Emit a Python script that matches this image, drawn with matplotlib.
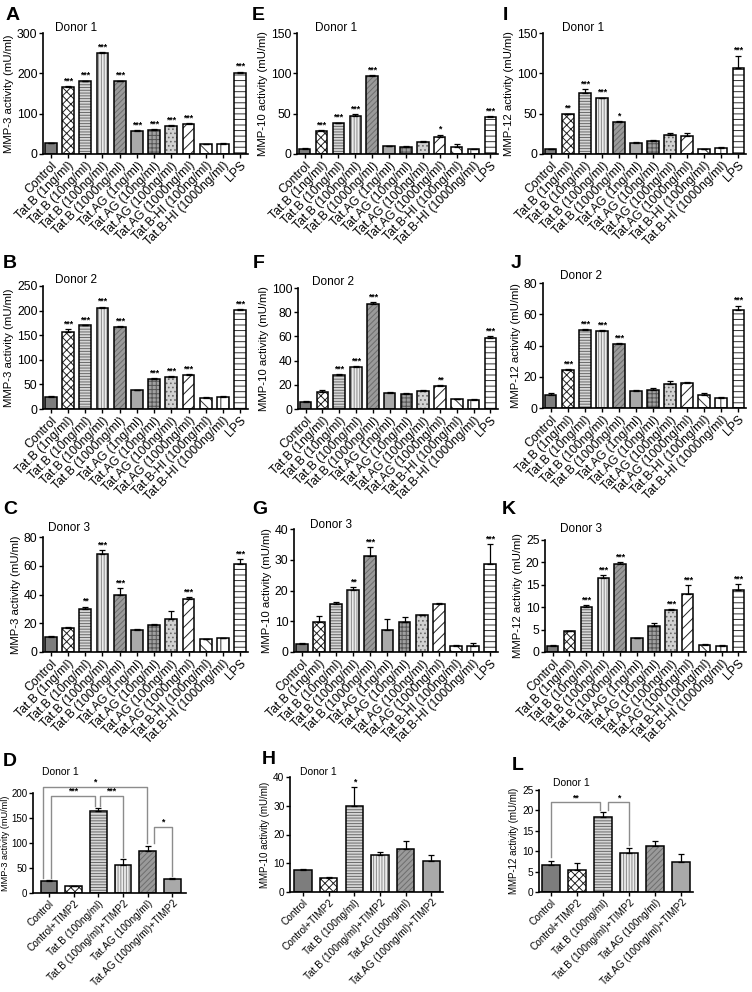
import numpy as np
import matplotlib.pyplot as plt

plt.rcParams['font.family'] = ['Liberation Sans', 'DejaVu Sans']
plt.rcParams['hatch.linewidth'] = 0.7

W, H = 752, 992

# カテゴリ
top_labels = ["Control", "Tat.B (1ng/ml)", "Tat.B (10ng/ml)", "Tat.B (100ng/ml)",
              "Tat.B (1000ng/ml)", "Tat.AG (1ng/ml)", "Tat.AG (10ng/ml)",
              "Tat.AG (100ng/ml)", "Tat.AG (1000ng/ml)", "Tat.B-HI (100ng/ml)",
              "Tat.B-HI (1000ng/ml)", "LPS"]
bottom_labels = ["Control", "Control+TIMP2", "Tat.B (100ng/ml)",
                 "Tat.B (100ng/ml)+TIMP2", "Tat.AG (100ng/ml)",
                 "Tat.AG (100ng/ml)+TIMP2"]

# MMP-3
mmp3_d1 = [27, 167, 180, 250, 180, 57, 60, 70, 74, 25, 26, 202]
mmp3_d1_err = [1.5, 2, 2, 3, 2, 2, 2, 2, 2, 1, 1, 2]
mmp3_d1_sig = ["", "***", "***", "***", "***", "***", "***", "***", "***", "", "", "***"]
mmp3_d2 = [25, 156, 170, 206, 167, 38, 60, 65, 70, 23, 25, 201]
mmp3_d2_err = [1, 6, 1, 2, 1, 1, 3, 2, 1, 1, 1, 2]
mmp3_d2_sig = ["", "***", "***", "***", "***", "", "***", "***", "***", "", "", "***"]
mmp3_d3 = [10.5, 17, 30, 68, 40, 15.5, 19, 23, 37, 9, 9.5, 61.5]
mmp3_d3_err = [0.5, 0.5, 1.5, 3, 4.5, 0.3, 0.5, 5.5, 1, 0.3, 0.5, 3]
mmp3_d3_sig = ["", "", "**", "***", "***", "", "", "", "***", "", "", "***"]
mmp3_timp = [25, 14, 165, 57, 85, 29]
mmp3_timp_err = [2, 1, 5, 12, 10, 2]
mmp3_timp_sig = ["", "", "", "", "", ""]

# MMP-10
mmp10_d1 = [6, 29, 38, 47, 97, 10, 9, 15, 21, 9, 6, 46]
mmp10_d1_err = [1, 1, 1, 2, 1, 0.5, 0.5, 1, 3, 4, 0.5, 1]
mmp10_d1_sig = ["", "***", "***", "***", "***", "", "", "", "*", "", "", "***"]
mmp10_d2 = [6, 14, 28, 35, 87, 13, 12, 15, 19, 8, 7.5, 59]
mmp10_d2_err = [1, 1.5, 1, 0.5, 1.5, 1.2, 1, 0.5, 0.8, 0.5, 0.5, 1.5]
mmp10_d2_sig = ["", "", "***", "***", "***", "", "", "", "**", "", "", "***"]
mmp10_d3 = [2.7, 9.8, 15.5, 20.3, 31.2, 7, 9.8, 12, 15.7, 2, 2, 28.5]
mmp10_d3_err = [0.3, 1.8, 0.7, 0.8, 3, 3.8, 1.7, 0.1, 0.3, 0.3, 0.8, 6.5]
mmp10_d3_sig = ["", "", "", "**", "***", "", "", "", "", "", "", "***"]
mmp10_timp = [7.7, 4.7, 30, 12.8, 14.8, 10.8]
mmp10_timp_err = [0.4, 0.4, 6.5, 1.2, 3, 2]
mmp10_timp_sig = ["", "", "*", "", "", ""]

# MMP-12
mmp12_d1 = [6, 49, 76, 69, 40, 14, 16, 24, 22, 6, 8, 107]
mmp12_d1_err = [0.5, 1, 4, 1, 1, 1, 1, 2, 4, 0.5, 1, 15]
mmp12_d1_sig = ["", "**", "***", "***", "*", "", "", "", "", "", "", "***"]
mmp12_d2 = [8.5, 24.5, 50, 49.5, 41, 11, 11.5, 15.5, 16, 8.5, 6.5, 62.5]
mmp12_d2_err = [1, 0.5, 0.3, 0.3, 0.5, 0.5, 1, 1.5, 0.5, 1, 0.3, 3]
mmp12_d2_sig = ["", "***", "***", "***", "***", "", "", "", "", "", "", "***"]
mmp12_d3 = [1.4, 4.6, 10, 16.5, 19.7, 3.1, 5.7, 9.3, 13, 1.5, 1.4, 13.8]
mmp12_d3_err = [0.1, 0.1, 0.4, 0.7, 0.3, 0.1, 0.7, 0.2, 2, 0.2, 0.1, 1.4]
mmp12_d3_sig = ["", "", "***", "***", "***", "", "", "***", "***", "", "", "***"]
mmp12_timp = [6.5, 5.5, 18.5, 9.6, 11.2, 7.4]
mmp12_timp_err = [1.2, 1.5, 1.2, 1.2, 1.2, 2]
mmp12_timp_sig = ["", "", "", "", "", ""]

# 有意差ブラケット (i, j, 高さ, 脚の下端 i, 脚の下端 j, ラベル, x補正 i, x補正 j)
mmp3_brackets = [(0, 4, 213, 31, 100, "*", -0.25, -0.05),
                 (0, 2, 194, 31, 175, "***", 0.08, -0.15),
                 (2, 3, 194, 175, 72, "***", 0.05, 0.0),
                 (4, 5, 133, 100, 35, "*", 0.25, 0.0)]
mmp12_brackets = [(0, 2, 22, 8.5, 20, "**", 0.0, -0.12),
                  (2, 3, 22, 20, 11.5, "*", 0.18, 0.0)]

# バーの塗り (facecolor, hatch, hatch color)
styles = [("#7d7d7d", None, None),
          ("white", "xxxx", "#222222"),
          ("#d6d6d6", "------", "#6a6a6a"),
          ("#ececec", "||||||", "#8a8a8a"),
          ("#9a9a9a", "//////", "#6e6e6e"),
          ("#a9a9a9", None, None),
          ("#a0a0a0", "++++", "#555555"),
          ("#d2d2d2", "....", "#6a6a6a"),
          ("white", "///", "#222222"),
          ("white", "\\\\\\", "#333333"),
          ("white", "||", "#333333"),
          ("white", "---", "#333333")]


def place(x0, x1, y0, y1):
    return [x0 / W, 1 - y1 / H, (x1 - x0) / W, (y1 - y0) / H]


def draw_panel(rect, vals, errs, sig, labels, ylim, yticks, ylabel, xlim,
               width, fs_tick, fs_lab, fs_y, ypad=2):
    ax = fig.add_axes(place(*rect))
    x = np.arange(len(vals))
    for i, v in enumerate(vals):
        fc, hatch, hc = styles[i]
        ax.bar(x[i], v, width, color=fc, hatch=hatch,
               edgecolor=hc if hc else fc, linewidth=0, zorder=2)
    ax.bar(x, vals, width, fill=False, edgecolor="black", linewidth=1.1, zorder=3)
    ax.errorbar(x, vals, yerr=[np.zeros(len(vals)), errs], fmt="none",
                ecolor="black", elinewidth=0.9, capsize=2.2, capthick=0.9, zorder=4)
    for i, s in enumerate(sig):
        if s:
            ax.annotate(s, (x[i], vals[i] + errs[i]), xytext=(0, 0.5),
                        textcoords="offset points", ha="center", va="bottom",
                        fontsize=6.3, fontweight="bold")
    ax.set_xlim(*xlim)
    ax.set_ylim(*ylim)
    ax.set_yticks(yticks)
    ax.set_xticks(x)
    ax.set_xticklabels(labels, rotation=45, ha="right", rotation_mode="anchor",
                       fontsize=fs_lab)
    ax.tick_params(axis="y", labelsize=fs_tick, length=3, width=1, pad=1)
    ax.tick_params(axis="x", length=3, width=1, pad=1)
    ax.set_ylabel(ylabel, fontsize=fs_y, labelpad=ypad)
    for sp in ["top", "right"]:
        ax.spines[sp].set_visible(False)
    for sp in ["left", "bottom"]:
        ax.spines[sp].set_linewidth(1.2)
    return ax


def draw_brackets(ax, brackets):
    for i, j, yb, yi, yj, lab, di, dj in brackets:
        xi, xj = i + di, j + dj
        ax.plot([xi, xi, xj, xj], [yi, yb, yb, yj], color="#8c8c8c",
                linewidth=1.0, clip_on=False, zorder=5)
        ax.text((xi + xj) / 2, yb, lab, ha="center", va="bottom",
                fontsize=6.3, fontweight="bold")


fig = plt.figure(figsize=(W / 100, H / 100), dpi=100)

top_xlim = (-0.45, 11.45)
yl3 = "MMP-3 activity (mU/ml)"
yl10 = "MMP-10 activity (mU/ml)"
yl12 = "MMP-12 activity (mU/ml)"
tk, lb, yl = 8.8, 8.8, 8.2

# 上3段
draw_panel((43, 248, 33, 154), mmp3_d1, mmp3_d1_err, mmp3_d1_sig, top_labels,
           (0, 300), [0, 100, 200, 300], yl3, top_xlim, 0.68, tk, lb, yl)
draw_panel((297, 498, 33, 154), mmp10_d1, mmp10_d1_err, mmp10_d1_sig, top_labels,
           (0, 150), [0, 50, 100, 150], yl10, top_xlim, 0.68, tk, lb, yl)
draw_panel((543, 746, 33, 154), mmp12_d1, mmp12_d1_err, mmp12_d1_sig, top_labels,
           (0, 150), [0, 50, 100, 150], yl12, top_xlim, 0.68, tk, lb, yl)

draw_panel((43, 248, 286, 409), mmp3_d2, mmp3_d2_err, mmp3_d2_sig, top_labels,
           (0, 250), [0, 50, 100, 150, 200, 250], yl3, top_xlim, 0.68, tk, lb, yl)
draw_panel((298, 498, 288, 409), mmp10_d2, mmp10_d2_err, mmp10_d2_sig, top_labels,
           (0, 100), [0, 20, 40, 60, 80, 100], yl10, top_xlim, 0.68, tk, lb, yl)
draw_panel((543, 746, 283, 408), mmp12_d2, mmp12_d2_err, mmp12_d2_sig, top_labels,
           (0, 80), [0, 20, 40, 60, 80], yl12, top_xlim, 0.68, tk, lb, yl)

draw_panel((43, 248, 537, 652), mmp3_d3, mmp3_d3_err, mmp3_d3_sig, top_labels,
           (0, 80), [0, 20, 40, 60, 80], yl3, top_xlim, 0.68, tk, lb, yl)
draw_panel((294, 498, 529, 652), mmp10_d3, mmp10_d3_err, mmp10_d3_sig, top_labels,
           (0, 40), [0, 10, 20, 30, 40], yl10, top_xlim, 0.68, tk, lb, yl)
draw_panel((545, 746, 540, 652), mmp12_d3, mmp12_d3_err, mmp12_d3_sig, top_labels,
           (0, 25), [0, 5, 10, 15, 20, 25], yl12, top_xlim, 0.68, tk, lb, yl)

# 下段 (TIMP2)
axD = draw_panel((33, 186, 793, 893), mmp3_timp, mmp3_timp_err, mmp3_timp_sig,
                 bottom_labels, (0, 200), [0, 50, 100, 150, 200], yl3,
                 (-0.65, 5.55), 0.68, 7.0, 7.2, 6.6, ypad=1)
draw_brackets(axD, mmp3_brackets)
draw_panel((290, 443, 777, 892), mmp10_timp, mmp10_timp_err, mmp10_timp_sig,
           bottom_labels, (0, 40), [0, 10, 20, 30, 40], yl10,
           (-0.5, 5.45), 0.68, 7.3, 7.2, 7.0)
axL = draw_panel((539, 693, 790, 892), mmp12_timp, mmp12_timp_err, mmp12_timp_sig,
                 bottom_labels, (0, 25), [0, 5, 10, 15, 20, 25], yl12,
                 (-0.45, 5.45), 0.68, 7.3, 7.2, 7.0)
draw_brackets(axL, mmp12_brackets)

# パネル記号
letters = [("A", 6, 15), ("E", 252, 15), ("I", 503, 15),
           ("B", 3, 264), ("F", 253, 264), ("J", 511, 264),
           ("C", 3, 510), ("G", 252, 510), ("K", 502, 509),
           ("D", 3, 761), ("H", 262, 759), ("L", 512, 766)]
for t, px, py in letters:
    fig.text(px / W, 1 - py / H, t, fontsize=14, fontweight="bold", va="center")

donors = [("Donor 1", 55, 28, 8.5), ("Donor 1", 315, 28, 8.5), ("Donor 1", 562, 28, 8.5),
          ("Donor 2", 55, 280, 8.5), ("Donor 2", 312, 282, 8.5), ("Donor 2", 560, 276, 8.5),
          ("Donor 3", 48, 528, 8.5), ("Donor 3", 310, 525, 8.5), ("Donor 3", 560, 529, 8.5),
          ("Donor 1", 42, 772, 7.5), ("Donor 1", 300, 772, 7.5), ("Donor 1", 553, 783, 7.5)]
for t, px, py, fs in donors:
    fig.text(px / W, 1 - py / H, t, fontsize=fs, va="center")

fig.savefig("out.png", dpi=100)
